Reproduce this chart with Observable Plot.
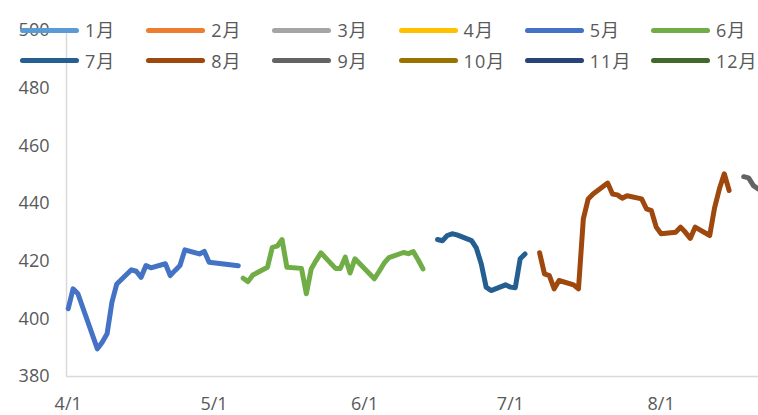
<!DOCTYPE html>
<html><head><meta charset="utf-8">
<script src="https://cdn.jsdelivr.net/npm/d3@7"></script>
<script src="https://cdn.jsdelivr.net/npm/@observablehq/plot@0.6"></script>
<style>
body{margin:0;background:#fff;}
#wrap{position:relative;width:758px;height:415px;overflow:hidden;font-family:"Open Sans","Noto Sans CJK SC",sans-serif;}
#legend{position:absolute;left:0;top:0;width:758px;height:80px;pointer-events:none;}
.item{position:absolute;height:20px;display:flex;align-items:center;}
.sw{width:59px;height:5px;border-radius:3px;}
.lb{margin-left:6px;font-size:18px;color:#595959;letter-spacing:1px;line-height:20px;}
</style></head>
<body><div id="wrap"><div id="chart"></div><div id="legend"></div></div>
<script>
const months = ["1月","2月","3月","4月","5月","6月","7月","8月","9月","10月","11月","12月"];
const colors = ["#5B9BD5","#ED7D31","#A5A5A5","#FFC000","#4472C4","#70AD47","#255E91","#9E480E","#636363","#997300","#264478","#43682B"];
const xTicks = ["2025-04-01","2025-05-01","2025-06-01","2025-07-01","2025-08-01"];
const yTicks = [380,400,420,440,460,480,500];

const mayDates = ["04-01","04-02","04-03","04-07","04-08","04-09","04-10","04-11","04-14","04-15","04-16","04-17","04-18","04-21","04-22","04-23","04-24","04-25","04-28","04-29","04-30","05-06"];
const mayValues = [403.5,410.4,408.7,389.6,391.9,394.8,405.8,412.1,417.0,416.5,414.4,418.5,417.7,419.1,415.0,416.8,418.5,423.9,422.5,423.4,419.6,418.4];

const junDates = ["05-07","05-08","05-09","05-12","05-13","05-14","05-15","05-16","05-19","05-20","05-21","05-22","05-23","05-26","05-27","05-28","05-29","05-30","06-03","06-04","06-05","06-06","06-09","06-10","06-11","06-12","06-13"];
const junValues = [414.1,412.9,415.2,417.9,424.8,425.2,427.5,417.9,417.5,408.7,417.3,420.2,422.9,417.5,417.5,421.4,415.9,420.8,413.9,416.5,419.3,421.2,423.0,422.6,423.3,420.5,417.3];

const julDates = ["06-16","06-17","06-18","06-19","06-20","06-23","06-24","06-25","06-26","06-27","06-30","07-01","07-02","07-03","07-04"];
const julValues = [427.5,427.1,428.9,429.5,429.1,427.1,424.5,419.0,411.0,409.8,411.8,411.0,410.8,420.8,422.5];

const augDates = ["07-07","07-08","07-09","07-10","07-11","07-14","07-15","07-16","07-17","07-18","07-21","07-22","07-23","07-24","07-25","07-28","07-29","07-30","07-31","08-01","08-04","08-05","08-06","08-07","08-08","08-11","08-12","08-13","08-14","08-15"];
const augValues = [422.9,415.6,415.0,410.4,413.3,411.8,410.4,434.7,441.6,443.3,447.1,443.3,443.0,441.8,442.7,441.6,438.1,437.5,431.8,429.5,430.0,431.8,430.0,427.9,431.8,428.9,438.5,445.1,450.3,444.5];

const sepDates = ["08-18","08-19","08-20","08-21"];
const sepValues = [449.3,448.9,446.2,445.0];

const seriesList = [["5月",mayDates,mayValues],["6月",junDates,junValues],["7月",julDates,julValues],["8月",augDates,augValues],["9月",sepDates,sepValues]];
const rows = [];
for (const [name, ds, vs] of seriesList) ds.forEach((d,i)=>rows.push({series:name, date:new Date("2025-"+d+"T00:00:00Z"), value:vs[i]}));

const xDomain = [new Date(Date.UTC(2025,2,31,15,36)), new Date(Date.UTC(2025,7,21,1,0))];

const chart = Plot.plot({
  width:758, height:415,
  marginLeft:66, marginRight:0, marginTop:30, marginBottom:39,
  style:{fontFamily:'"Open Sans","Noto Sans CJK SC",sans-serif', fontSize:"18px", color:"#595959", background:"#fff", overflow:"hidden"},
  x:{type:"utc", domain:xDomain, ticks:xTicks.map(s=>new Date(s+"T00:00:00Z")), tickFormat:d=>`${d.getUTCMonth()+1}/${d.getUTCDate()}`, tickSize:0, tickPadding:21, label:null},
  y:{domain:[380,500], ticks:yTicks, tickSize:0, tickPadding:17, label:null},
  color:{domain:months, range:colors},
  marks:[
    Plot.ruleY([380],{stroke:"#D9D9D9", strokeWidth:1.5}),
    Plot.ruleX([xDomain[0]],{y1:380, y2:500, stroke:"#D9D9D9", strokeWidth:1.5}),
    Plot.line(rows,{x:"date", y:"value", z:"series", stroke:"series", strokeWidth:5, strokeLinecap:"round", strokeLinejoin:"round"})
  ]
});
document.getElementById("chart").appendChild(chart);

const lg = document.getElementById("legend");
months.forEach((m,i)=>{
  const col = i%6, row = Math.floor(i/6);
  const it = document.createElement("div");
  it.className="item";
  it.style.left = (20 + col*126.2)+"px";
  it.style.top = (20 + row*30.5)+"px";
  it.innerHTML = `<div class="sw" style="background:${colors[i]}"></div><span class="lb">${m}</span>`;
  lg.appendChild(it);
});
</script></body></html>
